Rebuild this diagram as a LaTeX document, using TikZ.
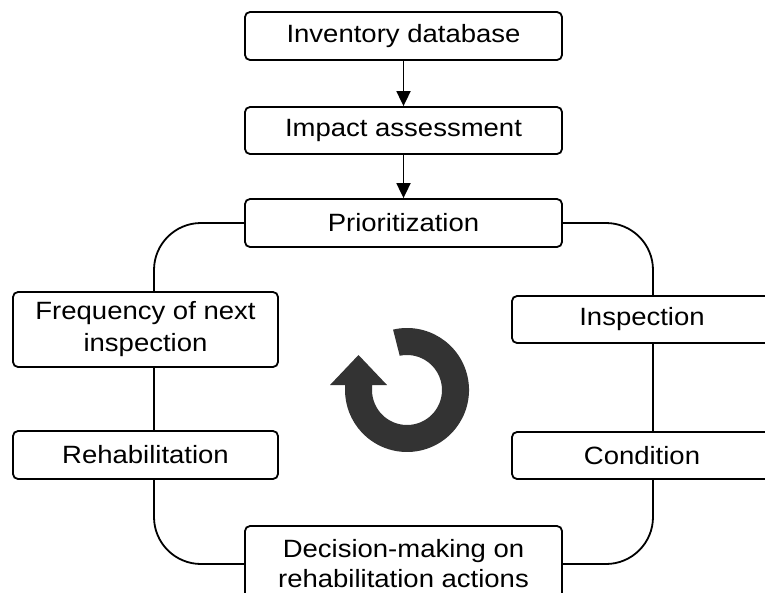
\documentclass[tikz,border=0pt]{standalone}
\usepackage{fontspec}
\setmainfont{Liberation Sans}[FakeStretch=1.1]
\usetikzlibrary{arrows.meta}
\definecolor{ringc}{HTML}{333333}
\begin{document}
\begin{tikzpicture}[x=1pt,y=-1pt,
  box/.style={draw, line width=1.8pt, rounded corners=5pt, align=center,
    font=\fontsize{25}{29}\selectfont, inner sep=0pt, fill=white},
  link/.style={line width=1.8pt},
  arr/.style={link,-{Triangle[width=14pt,length=15pt]}}]
\useasboundingbox (0,0) rectangle (765,592);
\clip (0,0) rectangle (765,592);
\node[box, minimum width=317pt, minimum height=48pt] (inv) at (403.5,36) {Inventory database};
\node[box, minimum width=317pt, minimum height=47pt] (imp) at (403.5,130.5) {Impact assessment};
\node[box, minimum width=317pt, minimum height=48pt] (prio) at (403.5,223) {Prioritization};
\node[box, minimum width=265pt, minimum height=75pt, font=\fontsize{25}{32}\selectfont] (freq) at (145.5,329.5) {Frequency of next\\inspection};
\node[box, minimum width=265pt, minimum height=48pt] (rehab) at (145.5,455) {Rehabilitation};
\node[box, minimum width=260pt, minimum height=47pt] (insp) at (642,319.5) {Inspection};
\node[box, minimum width=260pt, minimum height=47pt] (cond) at (642,455.5) {Condition};
\node[box, minimum width=317pt, minimum height=76pt, font=\fontsize{25}{30}\selectfont] (dec) at (403.5,564) {Decision-making on\\rehabilitation actions};
\draw[arr] (inv) -- (imp);
\draw[arr] (imp) -- (prio);
\coordinate (lx) at (154,0);
\coordinate (rx) at (653,0);
\draw[link, rounded corners=47pt] (prio.west) -| (lx |- freq.north);
\draw[link] (lx |- freq.south) -- (lx |- rehab.north);
\draw[link, rounded corners=47pt] (lx |- rehab.south) |- (dec.west);
\draw[link, rounded corners=47pt] (prio.east) -| (rx |- insp.north);
\draw[link] (rx |- insp.south) -- (rx |- cond.north);
\draw[link, rounded corners=47pt] (rx |- cond.south) |- (dec.east);
\begin{scope}[shift={(407,390)}, yscale=-1]
\fill[ringc] (103:62) arc[start angle=103, end angle=-180, radius=62]
  -- (-62,5) -- (-77,5) -- (-48.5,35) -- (-20,5) -- (-35,5) -- (-35,0)
  arc[start angle=-180, end angle=102, radius=35] -- cycle;
\end{scope}
\end{tikzpicture}
\end{document}
